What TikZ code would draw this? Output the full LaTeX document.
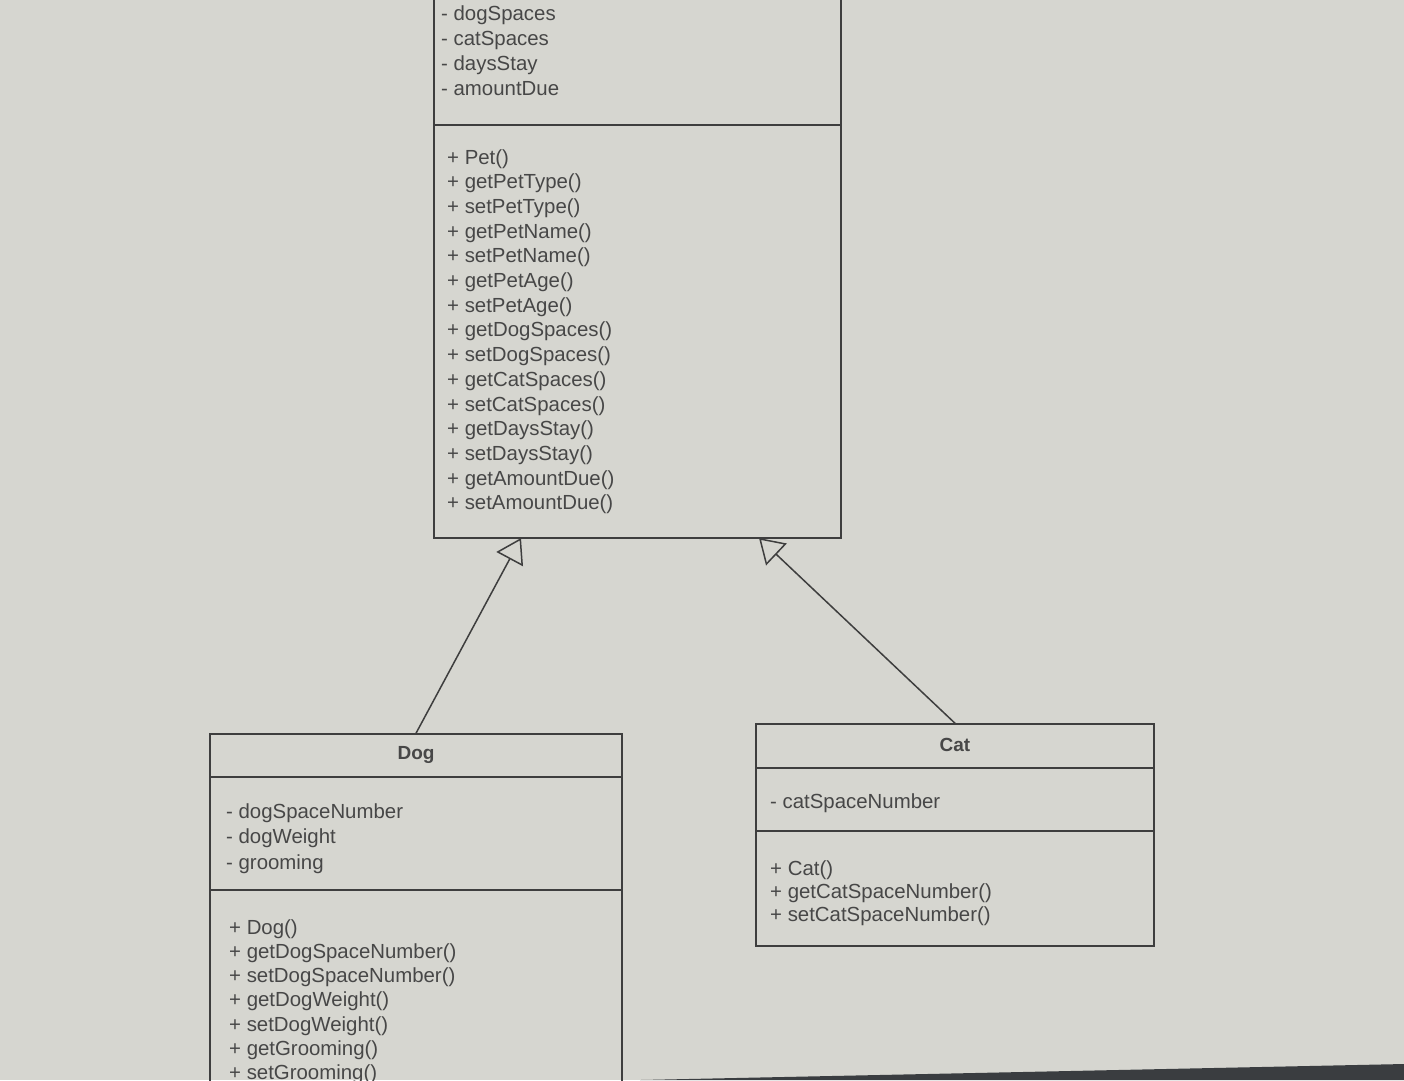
\documentclass[tikz,border=0pt]{standalone}
\usepackage{fontspec}
\setmainfont{Liberation Sans}
\usetikzlibrary{arrows.meta}
\definecolor{bg}{HTML}{D6D6D0}
\definecolor{ln}{HTML}{3E3E3E}
\definecolor{tx}{HTML}{474747}
\definecolor{bezel}{HTML}{3A3D40}
\begin{document}
\begin{tikzpicture}[x=1pt,y=-1pt,
  box/.style={draw=ln, line width=1.5pt, rectangle, inner sep=0pt},
  lbl/.style={anchor=base west, inner sep=0pt, text=tx, font=\fontsize{20.4}{24}\selectfont},
  ttl/.style={inner sep=0pt, text=tx, font=\fontsize{19}{22}\selectfont\bfseries},
  sep/.style={draw=ln, line width=1.5pt},
  inh/.style={draw=ln, line width=1.5pt, -{Triangle[open, length=24pt, width=30pt]}}]
\useasboundingbox (0,0) rectangle (1404,1080);
\clip (0,0) rectangle (1404,1080);
\fill[bg] (0,0) rectangle (1404,1080);
% Pet class (top cut off)
\node[box, minimum width=407pt, minimum height=838pt] (pet) at (637.5,119) {};
\draw[sep] (pet.west |- 0,125) -- (pet.east |- 0,125);
\foreach \t [count=\i] in {- dogSpaces, - catSpaces, - daysStay, - amountDue}
  \node[lbl, name=pa\i] at (441, {20+25*(\i-1)}) {\t};
\foreach \t [count=\i] in {+ Pet(), + getPetType(), + setPetType(), + getPetName(), + setPetName(), + getPetAge(), + setPetAge(), + getDogSpaces(), + setDogSpaces(), + getCatSpaces(), + setCatSpaces(), + getDaysStay(), + setDaysStay(), + getAmountDue(), + setAmountDue()}
  \node[lbl, name=pm\i] at (447, {164+24.71*(\i-1)}) {\t};
% Dog class
\node[box, minimum width=412pt, minimum height=566pt] (dog) at (416,1017) {};
\node[ttl] (dogt) at (416,755) {Dog};
\draw[sep] (dog.west |- 0,777) -- (dog.east |- 0,777);
\draw[sep] (dog.west |- 0,890) -- (dog.east |- 0,890);
\foreach \t [count=\i] in {- dogSpaceNumber, - dogWeight, - grooming}
  \node[lbl, name=da\i] at (226, {818+25.5*(\i-1)}) {\t};
\foreach \t [count=\i] in {+ Dog(), + getDogSpaceNumber(), + setDogSpaceNumber(), + getDogWeight(), + setDogWeight(), + getGrooming(), + setGrooming()}
  \node[lbl, name=dm\i] at (229, {934+24.3*(\i-1)}) {\t};
% Cat class
\node[box, minimum width=398pt, minimum height=222pt] (cat) at (955,835) {};
\node[ttl] (catt) at (955,745) {Cat};
\draw[sep] (cat.west |- 0,768) -- (cat.east |- 0,768);
\draw[sep] (cat.west |- 0,831) -- (cat.east |- 0,831);
\node[lbl] (ca1) at (770,808) {- catSpaceNumber};
\foreach \t [count=\i] in {+ Cat(), + getCatSpaceNumber(), + setCatSpaceNumber()}
  \node[lbl, name=cm\i] at (770, {875+23*(\i-1)}) {\t};
% inheritance
\coordinate (pdog) at (521,538);
\coordinate (pcat) at (759,538);
\draw[inh] (dog.north) -- (pdog);
\draw[inh] (cat.north) -- (pcat);
% screen bezel
\fill[bezel] (640,1080) -- (1404,1064) -- (1404,1080) -- cycle;
\end{tikzpicture}
\end{document}
